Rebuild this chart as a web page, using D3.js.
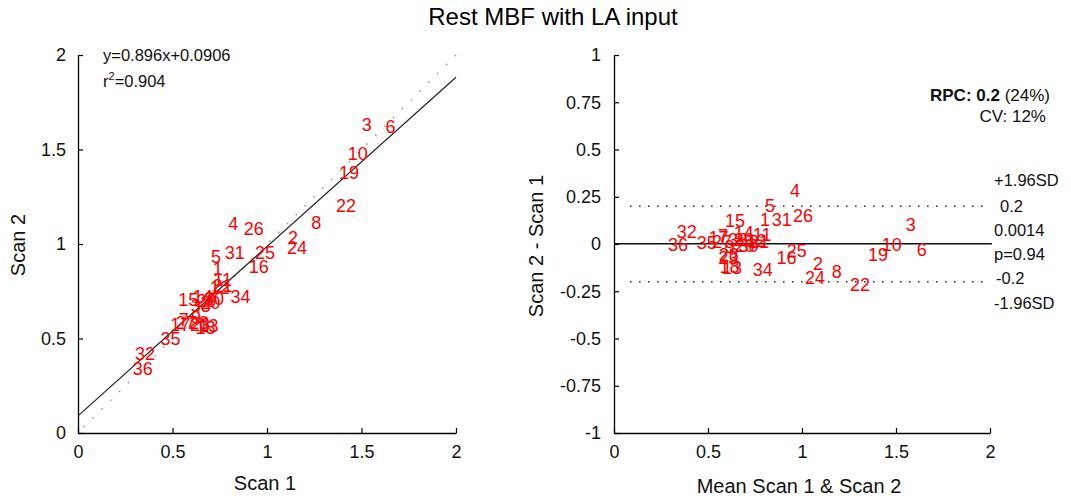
<!DOCTYPE html>
<html>
<head>
<meta charset="utf-8">
<script src="https://cdn.jsdelivr.net/npm/d3@7"></script>
<style>
  body { margin: 0; background: #fff; }
  svg { font-family: "Liberation Sans", Arial, sans-serif; }
</style>
</head>
<body>
<div id="chart"></div>
<script>
// point ids, scan 1 and scan 2 values
var pointIds = ["1","2","3","4","5","6","7","8","9","10","11","12","13","14","15","16","17","18",
  "19","20","21","22","23","24","25","26","27","28","29","30","31","32","33","34","35","36"];
var scan1 = [0.74, 1.138, 1.528, 0.822, 0.73, 1.653, 0.56, 1.26, 0.624, 1.48, 0.765, 0.75,
  0.69, 0.66, 0.584, 0.956, 0.541, 0.675, 1.434, 0.70, 0.765, 1.418, 0.645, 1.159,
  0.99, 0.93, 0.57, 0.64, 0.68, 0.72, 0.83, 0.354, 0.65, 0.86, 0.49, 0.343];
var scan2 = [0.867, 1.032, 1.628, 1.104, 0.93, 1.621, 0.60, 1.11, 0.608, 1.475, 0.81, 0.767,
  0.565, 0.72, 0.704, 0.88, 0.571, 0.555, 1.376, 0.69, 0.777, 1.20, 0.57, 0.979,
  0.955, 1.08, 0.58, 0.58, 0.70, 0.71, 0.955, 0.42, 0.67, 0.722, 0.497, 0.338];

var fitSlope = 0.896, fitIntercept = 0.0906;
var fitLabels = ["y=0.896x+0.0906", "=0.904"];
var meanDiff = 0.0014, limitHi = 0.2, limitLo = -0.2;
var statLabels = ["+1.96SD", "0.2", "0.0014", "p=0.94", "-0.2", "-1.96SD"];

var scatterTicks = [0, 0.5, 1, 1.5, 2];
var diffTicks = [-1, -0.75, -0.5, -0.25, 0, 0.25, 0.5, 0.75, 1];

var width = 1071, height = 496;
var red = "#ff0000";

// plain hyphen for negatives, like the original figure
var fmt = function(v) { return String(+v.toFixed(2)); };

var svg = d3.select("#chart").append("svg")
  .attr("width", width)
  .attr("height", height);

svg.append("text")
  .attr("x", 553).attr("y", 25)
  .attr("text-anchor", "middle")
  .style("font-size", "24px")
  .text("Rest MBF with LA input");

function styleAxis(g) {
  g.select(".domain").attr("stroke", "#000").attr("stroke-width", 1.3);
  g.selectAll(".tick line").attr("stroke", "#000").attr("stroke-width", 1.2);
  g.selectAll(".tick text").style("font-size", "18px").attr("fill", "#111")
    .style("font-family", "'Liberation Sans', Arial, sans-serif");
}

// ---------- left: scan 2 vs scan 1 ----------
var xL = d3.scaleLinear().domain([0, 2]).range([78, 456]);
var yL = d3.scaleLinear().domain([0, 2]).range([433, 55]);

svg.append("g")
  .attr("transform", "translate(0,433)")
  .call(d3.axisBottom(xL).tickValues(scatterTicks).tickFormat(fmt)
    .tickSizeInner(-5).tickSizeOuter(0).tickPadding(12))
  .call(styleAxis);
svg.append("g")
  .attr("transform", "translate(78,0)")
  .call(d3.axisLeft(yL).tickValues(scatterTicks).tickFormat(fmt)
    .tickSizeInner(-5).tickSizeOuter(0).tickPadding(12))
  .call(styleAxis);

// identity line
svg.append("line")
  .attr("x1", xL(0.03)).attr("y1", yL(0.03))
  .attr("x2", xL(2)).attr("y2", yL(2))
  .attr("stroke", "#999").attr("stroke-width", 1.5)
  .attr("stroke-dasharray", "1.5 11");

// regression line
svg.append("line")
  .attr("x1", xL(0)).attr("y1", yL(fitIntercept))
  .attr("x2", xL(2)).attr("y2", yL(fitSlope * 2 + fitIntercept))
  .attr("stroke", "#222").attr("stroke-width", 1.2);

svg.append("text")
  .attr("x", 103).attr("y", 61)
  .style("font-size", "16.5px").attr("fill", "#111")
  .text(fitLabels[0]);
var r2 = svg.append("text")
  .attr("x", 103).attr("y", 87)
  .style("font-size", "16.5px").attr("fill", "#111");
r2.append("tspan").text("r");
r2.append("tspan").attr("dy", -7).style("font-size", "11px").text("2");
r2.append("tspan").attr("dy", 7).text(fitLabels[1]);

svg.append("g").selectAll("text")
  .data(pointIds)
  .join("text")
  .attr("x", function(d, i) { return xL(scan1[i]); })
  .attr("y", function(d, i) { return yL(scan2[i]); })
  .attr("text-anchor", "middle")
  .attr("dominant-baseline", "central")
  .attr("fill", red)
  .style("font-size", "18px")
  .text(function(d) { return d; });

svg.append("text")
  .attr("x", 265).attr("y", 490)
  .attr("text-anchor", "middle")
  .style("font-size", "20px").attr("fill", "#111")
  .text("Scan 1");
svg.append("text")
  .attr("transform", "translate(25,245) rotate(-90)")
  .attr("text-anchor", "middle")
  .style("font-size", "20px").attr("fill", "#111")
  .text("Scan 2");

// ---------- right: Bland-Altman ----------
var xR = d3.scaleLinear().domain([0, 2]).range([614, 990]);
var yR = d3.scaleLinear().domain([-1, 1]).range([433, 55]);

svg.append("g")
  .attr("transform", "translate(0,433)")
  .call(d3.axisBottom(xR).tickValues(scatterTicks).tickFormat(fmt)
    .tickSizeInner(-5).tickSizeOuter(0).tickPadding(12))
  .call(styleAxis);
svg.append("g")
  .attr("transform", "translate(614,0)")
  .call(d3.axisLeft(yR).tickValues(diffTicks).tickFormat(fmt)
    .tickSizeInner(-5).tickSizeOuter(0).tickPadding(13))
  .call(styleAxis);

svg.append("line")
  .attr("x1", xR(0)).attr("y1", yR(meanDiff))
  .attr("x2", xR(2.01)).attr("y2", yR(meanDiff))
  .attr("stroke", "#111").attr("stroke-width", 1.5);

[limitHi, limitLo].forEach(function(v) {
  svg.append("line")
    .attr("x1", xR(0.085)).attr("y1", yR(v))
    .attr("x2", xR(2)).attr("y2", yR(v))
    .attr("stroke", "#333").attr("stroke-width", 1.6)
    .attr("stroke-dasharray", "1.6 7.4");
});

svg.append("g").selectAll("text")
  .data(pointIds)
  .join("text")
  .attr("x", function(d, i) { return xR((scan1[i] + scan2[i]) / 2); })
  .attr("y", function(d, i) { return yR(scan2[i] - scan1[i]); })
  .attr("text-anchor", "middle")
  .attr("dominant-baseline", "central")
  .attr("fill", red)
  .style("font-size", "18px")
  .text(function(d) { return d; });

var rpc = svg.append("text")
  .attr("x", 1050).attr("y", 101)
  .attr("text-anchor", "end")
  .style("font-size", "17px").attr("fill", "#111");
rpc.append("tspan").style("font-weight", "bold").text("RPC: 0.2");
rpc.append("tspan").text(" (24%)");
svg.append("text")
  .attr("x", 1046).attr("y", 122)
  .attr("text-anchor", "end")
  .style("font-size", "17px").attr("fill", "#111")
  .text("CV: 12%");

var statY = [186, 212, 236, 260, 284, 309];
var statX = [994, 1000, 994, 994, 996, 994];
svg.append("g").selectAll("text")
  .data(statLabels)
  .join("text")
  .attr("x", function(d, i) { return statX[i]; })
  .attr("y", function(d, i) { return statY[i]; })
  .style("font-size", "16.5px").attr("fill", "#111")
  .text(function(d) { return d; });

svg.append("text")
  .attr("x", 799).attr("y", 493)
  .attr("text-anchor", "middle")
  .style("font-size", "20px").attr("fill", "#111")
  .text("Mean Scan 1 & Scan 2");
svg.append("text")
  .attr("transform", "translate(543,246) rotate(-90)")
  .attr("text-anchor", "middle")
  .style("font-size", "20px").attr("fill", "#111")
  .text("Scan 2 - Scan 1");
</script>
</body>
</html>
